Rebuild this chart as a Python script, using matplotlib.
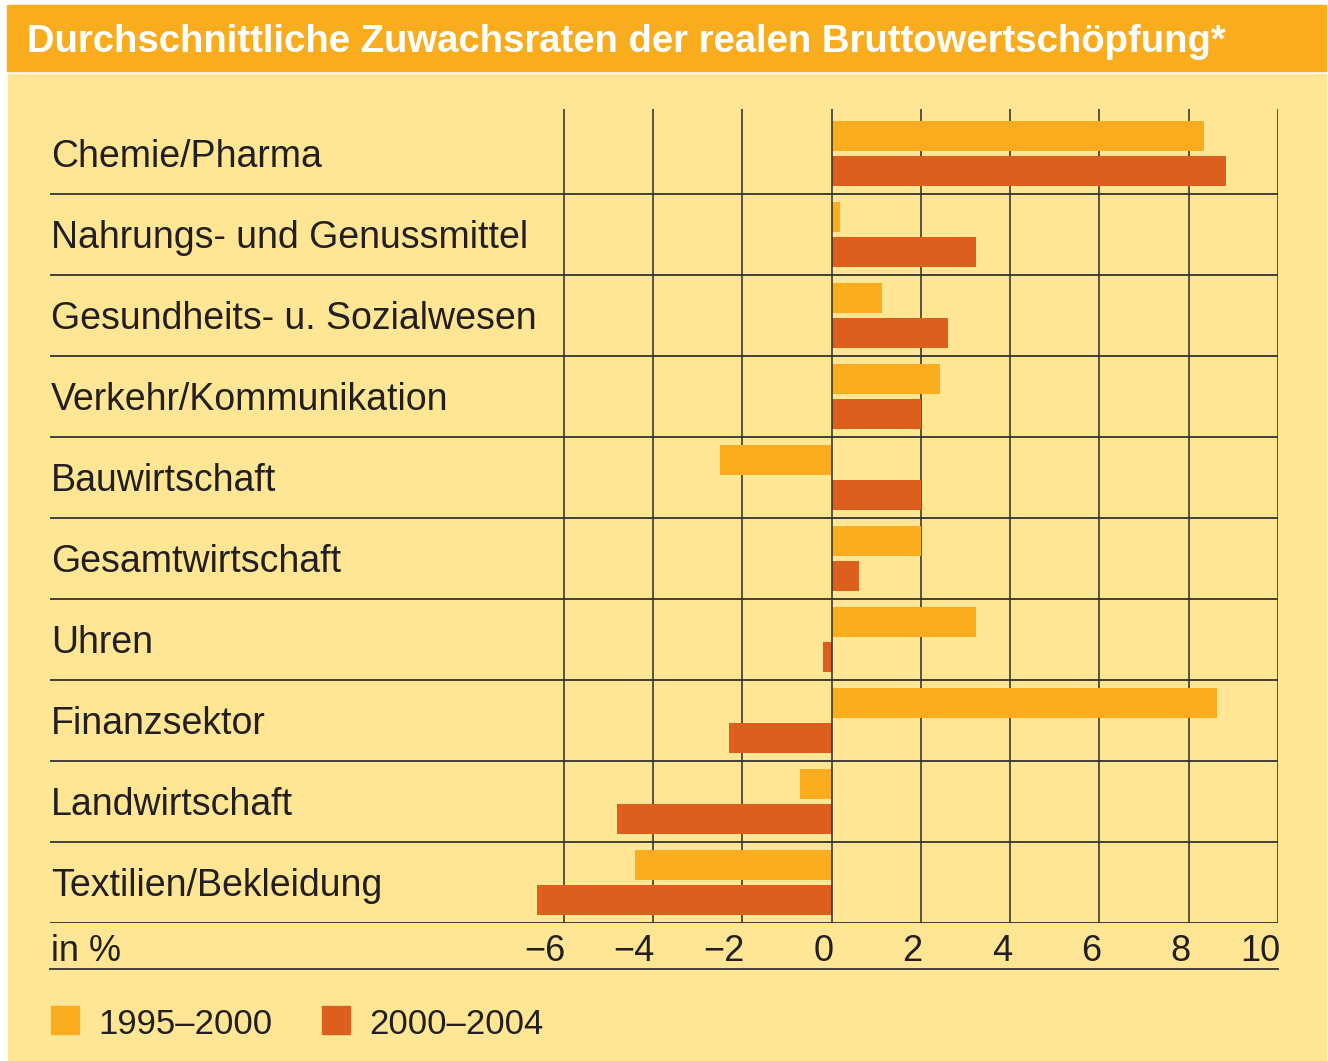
import matplotlib.pyplot as plt
from matplotlib.patches import Rectangle

# Data
# ----
categories = ["Chemie/Pharma", "Nahrungs- und Genussmittel", "Gesundheits- u. Sozialwesen",
              "Verkehr/Kommunikation", "Bauwirtschaft", "Gesamtwirtschaft", "Uhren",
              "Finanzsektor", "Landwirtschaft", "Textilien/Bekleidung"]
rate_1995_2000 = [8.35, 0.2, 1.13, 2.42, -2.49, 2.0, 3.23, 8.63, -0.7, -4.41]
rate_2000_2004 = [8.84, 3.23, 2.62, 2.0, 2.0, 0.61, -0.19, -2.29, -4.81, -6.6]
series_labels = ["1995–2000", "2000–2004"]
xticks = [-6, -4, -2, 0, 2, 4, 6, 8, 10]
title = "Durchschnittliche Zuwachsraten der realen Bruttowertschöpfung*"

# Style
# -----
W, H = 1328, 1061
BG = "#FFE695"
TITLE_BG = "#F9AC1E"
C1 = "#F9AC1E"
C2 = "#DD5F1E"
LINE = "#35322f"
TXT = "#231f20"
plt.rcParams['font.family'] = ['Liberation Sans', 'DejaVu Sans']


def fx(px):
    return px / W


def fy(py):
    return 1 - py / H


fig = plt.figure(figsize=(W / 100, H / 100), dpi=100)
fig.patch.set_facecolor("white")

# Background panels
fig.add_artist(Rectangle((fx(8), fy(1061)), fx(1326) - fx(8), fy(74) - fy(1061),
                         transform=fig.transFigure, color=BG, zorder=0))
fig.add_artist(Rectangle((fx(7), fy(71)), fx(1326) - fx(7), fy(5) - fy(71),
                         transform=fig.transFigure, color=TITLE_BG, zorder=0))
fig.text(fx(27), fy(52), title, color="white", fontsize=27.5, fontweight="bold",
         ha="left", va="baseline")

# Main axes: left edge at px 50, right at 1278 (x=10), zero at 831.5
left_px, right_px, top_px, bot_px = 50, 1278, 109, 923.3
ax = fig.add_axes([fx(left_px), fy(bot_px), fx(right_px) - fx(left_px), fy(top_px) - fy(bot_px)])
ax.set_facecolor("none")
ppu = (right_px - 831.5) / 10.0
ax.set_xlim(-(831.5 - left_px) / ppu, 10)
ax.set_ylim(9.5, -0.55)
for s in ax.spines.values():
    s.set_visible(False)
ax.set_xticks([])
ax.set_yticks([])

n = len(categories)
ypos = list(range(n))
off = 0.216
bh = 0.37
ax.barh([y - off for y in ypos], rate_1995_2000, height=bh, color=C1, zorder=2)
ax.barh([y + off for y in ypos], rate_2000_2004, height=bh, color=C2, zorder=2)

# grid
for t in xticks:
    ax.axvline(t, color=LINE, lw=1.15, zorder=3 if t == 0 else 1)
for k in range(n):
    ax.axhline(k + 0.5, color=LINE, lw=1.3, zorder=3)

# category labels
for y, c in zip(ypos, categories):
    ax.text(ax.get_xlim()[0] + 1 / ppu, y + 0.167, c, fontsize=27, color=TXT,
            ha="left", va="baseline")

# tick labels and bottom rule
for t in xticks:
    lab = str(t).replace("-", "\u2212")
    xp = 831.5 + t * ppu + 2
    fig.text(fx(xp), fy(961), lab, fontsize=26, color=TXT, ha="right", va="baseline")
fig.text(fx(51), fy(961), "in %", fontsize=26, color=TXT, ha="left", va="baseline")
fig.add_artist(plt.Line2D([fx(50), fx(1278)], [fy(969), fy(969)], color=LINE, lw=1.3,
                          transform=fig.transFigure))

# legend
lx = [51, 322]
for x0, col, lab in zip(lx, [C1, C2], series_labels):
    fig.add_artist(Rectangle((fx(x0), fy(1034)), fx(28), 28 / H, transform=fig.transFigure,
                             color=col))
    fig.text(fx(x0 + 47), fy(1034), lab, fontsize=25, color=TXT, ha="left", va="baseline")

plt.savefig("out.png", dpi=100, facecolor=fig.get_facecolor())
